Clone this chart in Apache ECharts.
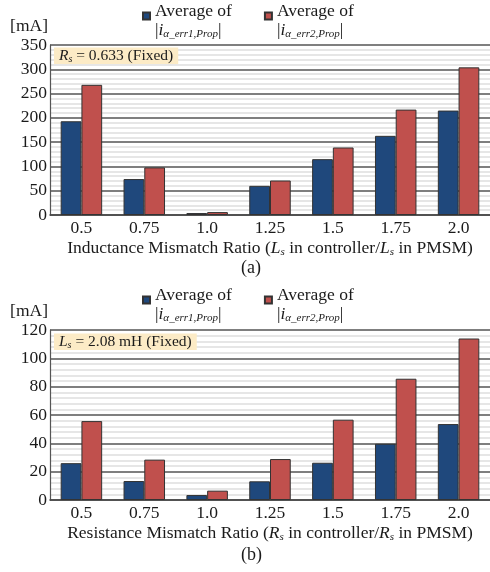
<!DOCTYPE html>
<html>
<head>
<meta charset="utf-8">
<script src="https://cdn.jsdelivr.net/npm/echarts@6/dist/echarts.min.js"></script>
<style>html,body{margin:0;padding:0;background:#fff;}#c{width:490px;height:572px;}</style>
</head>
<body>
<div id="c"></div>
<script>
const categories = ['0.5', '0.75', '1.0', '1.25', '1.5', '1.75', '2.0'];
// (a) Inductance mismatch, Rs fixed
const lsErr1 = [193, 74, 4, 60, 115, 163, 215];
const lsErr2 = [268, 98, 6, 71, 139, 217, 304];
// (b) Resistance mismatch, Ls fixed
const rsErr1 = [26, 13.4, 3.5, 13.2, 26.3, 39.7, 53.6];
const rsErr2 = [55.7, 28.5, 6.6, 28.9, 56.7, 85.6, 114];
const yTopMax = 350, yTopStep = 50;
const yBotMax = 120, yBotStep = 20;
const seriesNames = ['err1', 'err2'];

const FONT = '"Liberation Serif", "DejaVu Serif", serif';
const TXT = '#1a1a1a';
const BLUE = '#1F487C';
const RED = '#C0504D';

const base = { fontFamily: FONT, color: TXT, fontWeight: 'normal' };
const rich = {
  n: Object.assign({}, base, { fontSize: 17.5, lineHeight: 19 }),
  it: Object.assign({}, base, { fontSize: 17.5, fontStyle: 'italic', lineHeight: 19 }),
  sub: Object.assign({}, base, { fontSize: 11, fontStyle: 'italic', lineHeight: 19, verticalAlign: 'bottom', padding: [6, 0, 0, 0] }),
  n15: Object.assign({}, base, { fontSize: 15.5, lineHeight: 17 }),
  it15: Object.assign({}, base, { fontSize: 15.5, fontStyle: 'italic', lineHeight: 17 }),
  sub15: Object.assign({}, base, { fontSize: 10, fontStyle: 'italic', lineHeight: 17, verticalAlign: 'bottom', padding: [5, 0, 0, 0] })
};

function legendFmt(name) {
  const idx = name === 'err1' ? '1' : '2';
  return '{n|Average of}\n{n||}{it|i}{sub|α_err' + idx + ',Prop}{n||}';
}

function legend(top) {
  return {
    top: top, left: 142, orient: 'horizontal', padding: 0,
    itemWidth: 7, itemHeight: 7, itemGap: 32, icon: 'rect',
    data: seriesNames, selectedMode: false,
    formatter: legendFmt,
    textStyle: { rich: rich, padding: [9, 0, 0, 0] }
  };
}

function yAxis(gi, max, step) {
  return {
    type: 'value', gridIndex: gi, min: 0, max: max, interval: step,
    name: '[mA]', nameLocation: 'end', nameGap: 10,
    nameTextStyle: { fontFamily: FONT, fontSize: 17.5, color: TXT, align: 'right', padding: [0, 2, 0, 0] },
    axisLine: { show: true, lineStyle: { color: '#555', width: 1.2 } },
    axisTick: { show: false },
    axisLabel: { fontFamily: FONT, fontSize: 17.5, color: TXT, margin: 3 },
    splitLine: { show: true, lineStyle: { color: '#555', width: 1.5 } },
    minorTick: { show: false, splitNumber: 5 },
    minorSplitLine: { show: true, lineStyle: { color: '#dedede', width: 1.5 } }
  };
}

function xAxis(gi, nameStr) {
  return {
    type: 'category', gridIndex: gi, data: categories,
    name: nameStr, nameLocation: 'middle', nameGap: 24,
    nameTextStyle: { rich: rich },
    axisLine: { show: true, lineStyle: { color: '#444', width: 1.5 } },
    axisTick: { show: false },
    axisLabel: { fontFamily: FONT, fontSize: 17.5, color: TXT, margin: 4 }
  };
}

function bar(name, gi, data, color) {
  return {
    type: 'bar', name: name, xAxisIndex: gi, yAxisIndex: gi, data: data,
    barGap: '0%', barCategoryGap: '34%',
    itemStyle: { color: color, borderColor: '#333', borderWidth: 1 },
    emphasis: { disabled: true }
  };
}

const option = {
  animation: false,
  backgroundColor: '#fff',
  textStyle: { fontFamily: FONT },
  title: [
    { text: '{it15|R}{sub15|s}{n15| = 0.633 (Fixed)}', left: 54, top: 47, padding: [0, 5, 0, 5],
      backgroundColor: '#FCEBC6', textStyle: { rich: rich, fontWeight: 'normal' } },
    { text: '{it15|L}{sub15|s}{n15| = 2.08 mH (Fixed)}', left: 54, top: 333, padding: [0, 5, 0, 5],
      backgroundColor: '#FCEBC6', textStyle: { rich: rich, fontWeight: 'normal' } },
    { text: '(a)', left: 241, top: 259, padding: 0,
      textStyle: { fontFamily: FONT, fontSize: 18, fontWeight: 'normal', color: TXT } },
    { text: '(b)', left: 241, top: 546, padding: 0,
      textStyle: { fontFamily: FONT, fontSize: 18, fontWeight: 'normal', color: TXT } }
  ],
  legend: [legend(2), legend(286)],
  grid: [
    { left: 50, right: 0, top: 45, height: 170, containLabel: false },
    { left: 50, right: 0, top: 330, height: 170, containLabel: false }
  ],
  xAxis: [
    xAxis(0, '{n|Inductance Mismatch Ratio (}{it|L}{sub|s}{n| in controller/}{it|L}{sub|s}{n| in PMSM)}'),
    xAxis(1, '{n|Resistance Mismatch Ratio (}{it|R}{sub|s}{n| in controller/}{it|R}{sub|s}{n| in PMSM)}')
  ],
  yAxis: [yAxis(0, yTopMax, yTopStep), yAxis(1, yBotMax, yBotStep)],
  series: [
    bar('err1', 0, lsErr1, BLUE),
    bar('err2', 0, lsErr2, RED),
    bar('err1', 1, rsErr1, BLUE),
    bar('err2', 1, rsErr2, RED)
  ]
};

const chart = echarts.init(document.getElementById('c'), null, { renderer: 'canvas' });
chart.setOption(option);
</script>
</body>
</html>
